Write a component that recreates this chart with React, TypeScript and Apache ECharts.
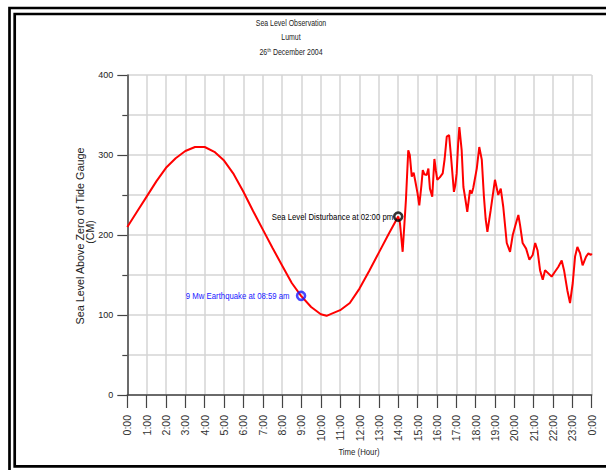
import React, { useEffect, useRef } from "react";
import * as echarts from "echarts";

// Tide gauge record, Lumut, 26 December 2004 (hours since midnight, cm above gauge zero)
const tideHours = [
  0.0, 0.5, 1.0, 1.5, 2.0, 2.5, 3.0, 3.5, 4.0, 4.5, 5.0, 5.5, 6.0, 6.5, 7.0, 7.5,
  8.0, 8.5, 8.98, 9.5, 10.0, 10.3, 10.6, 11.0, 11.5, 12.0, 12.5, 13.0, 13.5, 14.0,
];
const tideLevels = [
  210, 229, 248, 267, 284, 296, 305, 310, 310, 304, 293, 276, 254, 230, 207, 184,
  162, 140, 124, 110, 101, 99, 102, 106, 115, 133, 155, 178, 201, 223,
];

// Disturbed record after the tsunami arrival
const surgeHours = [
  14.09, 14.23, 14.4, 14.52, 14.6, 14.7, 14.8, 14.87, 15.0, 15.09, 15.2, 15.27, 15.35,
  15.47, 15.56, 15.64, 15.76, 15.87, 15.95, 16.02, 16.15, 16.3, 16.4, 16.51, 16.63,
  16.73, 16.88, 16.95, 17.02, 17.1, 17.16, 17.28, 17.37, 17.47, 17.57, 17.71, 17.8,
  17.88, 18.06, 18.19, 18.32, 18.43, 18.52, 18.61, 18.78, 19.0, 19.17, 19.3, 19.43,
  19.61, 19.78, 19.92, 20.09, 20.21, 20.3, 20.43, 20.61, 20.78, 20.95, 21.08, 21.2,
  21.33, 21.47, 21.59, 21.76, 21.93, 22.1, 22.27, 22.45, 22.57, 22.74, 22.88, 23.02,
  23.14, 23.26, 23.4, 23.53, 23.71, 23.83, 23.95, 24.0,
];
const surgeLevels = [
  215, 179, 244, 306, 300, 273, 278, 269, 252, 237, 262, 281, 276,
  275, 283, 258, 248, 295, 280, 269, 272, 277, 295, 323, 325,
  298, 254, 262, 277, 315, 335, 306, 260, 245, 229, 256, 252,
  259, 283, 310, 294, 248, 220, 204, 231, 269, 250, 258, 235,
  190, 179, 200, 215, 225, 212, 190, 183, 169, 175, 190, 181,
  156, 144, 156, 152, 148, 154, 160, 168, 156, 131, 115, 140,
  173, 185, 177, 162, 173, 177, 175, 177,
];

// Marked events
const eventLabels = ["9 Mw Earthquake at 08:59 am", "Sea Level Disturbance at 02:00 pm"];
const eventHours = [8.98, 14.0];
const eventLevels = [124, 223];

const titleLines = ["Sea Level Observation", "Lumut"];
const dateLine = { day: "26", suffix: "th", rest: " December 2004" };
const xAxisName = "Time (Hour)";
const yAxisName = ["Sea Level Above Zero of Tide Gauge", "(CM)"];

const SANS = '"Liberation Sans", Arial, sans-serif';
const TEXT = "#222";
const AXIS = "#444";
const GRID = "#d4d4d4";
// condensed look for the sheet's captions
const CONDENSE = 0.82;

export default function App() {
  const ref = useRef<HTMLDivElement>(null);

  useEffect(() => {
    if (!ref.current) return;
    const chart = echarts.init(ref.current, null, { renderer: "svg" });

    const levelData = [
      ...tideHours.map((h, i) => [h, tideLevels[i]]),
      ...surgeHours.map((h, i) => [h, surgeLevels[i]]),
    ];

    const eventColors = ["#1a1aff", "#000000"];
    const labelGaps = [11.5, 5];

    chart.setOption({
      animation: false,
      backgroundColor: "#ffffff",
      grid: { left: 127.3, right: 14.3, top: 75, bottom: 75, containLabel: false },
      xAxis: {
        type: "value",
        min: 0,
        max: 24,
        interval: 1,
        axisLine: { show: true, onZero: false, lineStyle: { color: AXIS, width: 1.5 } },
        axisTick: { show: true, length: 13, lineStyle: { color: AXIS, width: 1.2 } },
        axisLabel: {
          rotate: 90,
          margin: 20,
          fontFamily: SANS,
          fontSize: 10.5,
          color: "#333",
          formatter: (v: number) => `${Math.round(v) % 24}:00`,
        },
        splitLine: { show: true, lineStyle: { color: GRID, width: 1.5 } },
      },
      yAxis: {
        type: "value",
        min: 0,
        max: 400,
        interval: 100,
        axisLine: { show: true, lineStyle: { color: AXIS, width: 1.5 } },
        axisTick: { show: true, length: 10, lineStyle: { color: AXIS, width: 1.2 } },
        minorTick: { show: true, splitNumber: 2, length: 5, lineStyle: { color: AXIS, width: 1.2 } },
        axisLabel: { margin: 14, fontFamily: SANS, fontSize: 9, color: TEXT },
        splitLine: { show: true, lineStyle: { color: GRID, width: 1.5 } },
        minorSplitLine: { show: true, lineStyle: { color: GRID, width: 1.5 } },
      },
      series: [
        {
          type: "line",
          data: levelData,
          showSymbol: false,
          lineStyle: { color: "#ff0000", width: 2 },
          itemStyle: { color: "#ff0000" },
          z: 3,
        },
        {
          type: "scatter",
          z: 5,
          data: eventHours.map((h, i) => ({
            name: eventLabels[i],
            value: [h, eventLevels[i]],
            itemStyle: { color: "rgba(0,0,0,0)", borderColor: eventColors[i], borderWidth: 2.6 },
          })),
          symbol: "circle",
          symbolSize: 8,
        },
      ],
    });

    // event captions sit just left of their markers
    const eventTexts = eventHours.map((h, i) => {
      const [px, py] = chart.convertToPixel({ gridIndex: 0 }, [h, eventLevels[i]]) as number[];
      return {
        type: "text",
        x: px - labelGaps[i],
        y: py,
        scaleX: CONDENSE,
        z: 10,
        style: {
          text: eventLabels[i],
          fontFamily: SANS,
          fontSize: 9.5,
          fill: eventColors[i],
          align: "right",
          verticalAlign: "middle",
        },
      };
    });

    const caption = (text: string, x: number, y: number, size: number, extra: object = {}) => ({
      type: "text",
      x,
      y,
      scaleX: CONDENSE,
      style: { text, fontFamily: SANS, fontSize: size, fill: TEXT, align: "center", verticalAlign: "middle", ...extra },
    });

    chart.setOption({
      graphic: [
        // double frame around the sheet
        {
          type: "rect",
          shape: { x: 9.5, y: 8, width: 700, height: 500 },
          style: { fill: "none", stroke: "#000", lineWidth: 2.7 },
          silent: true,
        },
        {
          type: "rect",
          shape: { x: 14.7, y: 14, width: 700, height: 452.3 },
          style: { fill: "none", stroke: "#000", lineWidth: 2.7 },
          silent: true,
        },
        caption(titleLines[0], 291, 23, 8.5),
        caption(titleLines[1], 291, 37.5, 8.5),
        caption(`${dateLine.day}{sup|${dateLine.suffix}}${dateLine.rest}`, 291, 52, 8.5, {
          rich: {
            sup: { fontFamily: SANS, fontSize: 5.5, fill: TEXT, verticalAlign: "top", padding: [0, 0, 5, 0] },
          },
        }),
        {
          type: "text",
          x: 80,
          y: 236,
          rotation: Math.PI / 2,
          style: { text: yAxisName[0], fontFamily: SANS, fontSize: 10.8, fill: TEXT, align: "center", verticalAlign: "middle" },
        },
        {
          type: "text",
          x: 90,
          y: 232,
          rotation: Math.PI / 2,
          style: { text: yAxisName[1], fontFamily: SANS, fontSize: 10.5, fill: TEXT, align: "center", verticalAlign: "middle" },
        },
        caption(xAxisName, 359, 452, 9.5),
        ...eventTexts,
      ],
    });

    return () => chart.dispose();
  }, []);

  return (
    <div
      ref={ref}
      style={{ position: "fixed", left: 0, top: 0, width: 606, height: 470, background: "#fff" }}
    />
  );
}
